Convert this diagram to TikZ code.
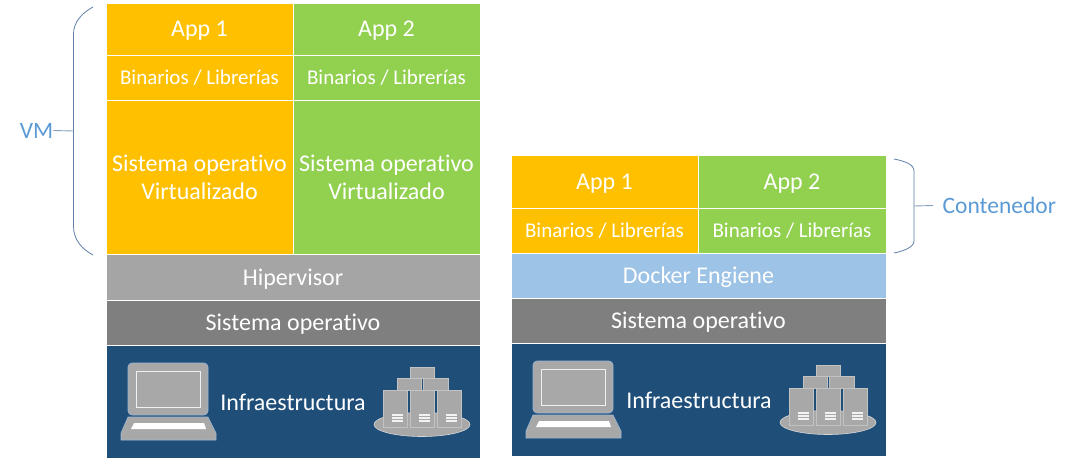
\documentclass[tikz,border=0pt]{standalone}
\usepackage{fontspec}
\setmainfont{Carlito}[RawFeature={-liga}]
\definecolor{orangeb}{HTML}{FFC000}
\definecolor{greenb}{HTML}{92D050}
\definecolor{grayb}{HTML}{A5A5A5}
\definecolor{darkb}{HTML}{7F7F7F}
\definecolor{navyb}{HTML}{1F4E79}
\definecolor{skyb}{HTML}{9DC3E6}
\definecolor{labelb}{HTML}{5B9BD5}
\definecolor{bracketb}{HTML}{5F7FA8}
\definecolor{icongray}{HTML}{A8A8A8}
\definecolor{iconedge}{HTML}{9DB8D2}
\tikzset{
  x=1pt,y=-1pt,
  box/.style={draw=white,line width=0.8pt,anchor=north west,inner sep=0pt,outer sep=0pt,text=white,align=center,font=\fontsize{24}{28}\selectfont},
  wide/.style={box,minimum width=375pt},
  half/.style={box,minimum width=#1pt},
  small/.style={font=\fontsize{21}{24}\selectfont},
  sidelabel/.style={text=labelb,font=\fontsize{23.5}{26}\selectfont,inner sep=0pt},
  bracket/.style={draw=bracketb,line width=0.8pt},
  lead/.style={draw=bracketb!75,line width=0.9pt},
  infra/.style={text=white,font=\fontsize{24}{26}\selectfont,inner sep=0pt},
  laptop/.pic={
    \path[fill=icongray,draw=iconedge,line width=0.6pt,rounded corners=4pt] (128,415)--(128,363)--(208,363)--(208,415)--cycle;
    \path[draw=white!88!gray,line width=0.8pt] (136,371) rectangle (200,407);
    \path[fill=icongray,draw=iconedge,line width=0.6pt] (128,417)--(208,417)--(216,433)--(216,440)--(121,440)--(121,433)--cycle;
    \path[fill=white] (134,423)--(204,423)--(206,429)--(131,429)--cycle;
  },
  srvbox/.style={fill=icongray,draw=white!30!icongray,line width=0.6pt},
  stripes/.style={draw=white!90!gray,line width=1.2pt},
  server/.pic={
    \path[fill=icongray,draw=white!55!icongray,line width=0.6pt] (422,424.5) ellipse [x radius=48,y radius=12];
    \path[srvbox] (410,367) rectangle (434,378);
    \path[srvbox] (397,378) rectangle (421,390);
    \path[srvbox] (423,378) rectangle (448,390);
    \foreach \xa in {383,410,437}{
      \path[srvbox] (\xa,390) rectangle ++(24,37);
      \foreach \ya in {415,418,421}{
        \path[stripes] (\xa+8.5,\ya) -- ++(11,0);
      }
    }
  }
}
\begin{document}
\begin{tikzpicture}
\useasboundingbox[fill=white] (0,0) rectangle (1072,466);
% left stack
\node[half=187,fill=orangeb,minimum height=52pt,text depth=0pt] (lapp1) at (106,3) {App 1};
\node[half=187,fill=greenb,minimum height=52pt,text depth=0pt] (lapp2) at (293,3) {App 2};
\node[half=187,small,fill=orangeb,minimum height=45pt] (lbin1) at (106,55) {Binarios / Librerías};
\node[half=187,small,fill=greenb,minimum height=45pt] (lbin2) at (293,55) {Binarios / Librerías};
\node[half=187,fill=orangeb,minimum height=154pt] (los1) at (106,100) {Sistema operativo\\Virtualizado};
\node[half=187,fill=greenb,minimum height=154pt] (los2) at (293,100) {Sistema operativo\\Virtualizado};
\node[wide,minimum width=374pt,fill=grayb,minimum height=46pt,text depth=0pt] (lhyp) at (106,254) {Hipervisor};
\node[wide,minimum width=374pt,fill=darkb,minimum height=45pt,text depth=0pt] (lsys) at (106,300) {Sistema operativo};
\node[wide,minimum width=374pt,fill=navyb,minimum height=113pt] (linf) at (106,345) {};
\node[infra] (linft) at (293,402) {Infraestructura};
\pic at (0,0) {laptop};
\pic at (0,0) {server};
% right stack
\node[half=187,fill=orangeb,minimum height=53pt,text depth=0pt] (rapp1) at (511,155.5) {App 1};
\node[half=188,fill=greenb,minimum height=53pt,text depth=0pt] (rapp2) at (698,155.5) {App 2};
\node[half=187,small,fill=orangeb,minimum height=45pt] (rbin1) at (511,208.5) {Binarios / Librerías};
\node[half=188,small,fill=greenb,minimum height=45pt] (rbin2) at (698,208.5) {Binarios / Librerías};
\node[wide,fill=skyb,minimum height=45pt,text depth=2pt] (rdock) at (511,253.5) {Docker Engiene};
\node[wide,fill=darkb,minimum height=45pt,text depth=2pt] (rsys) at (511,298.5) {Sistema operativo};
\node[wide,fill=navyb,minimum height=113pt] (rinf) at (511,343.5) {};
\node[infra] (rinft) at (699,400) {Infraestructura};
\pic at (405,-2) {laptop};
\pic at (406,-2) {server};
% VM bracket
\coordinate (vmtop) at (93,7);
\coordinate (vmmid) at (73.5,131);
\coordinate (vmbot) at (93,255);
\node[sidelabel] (vm) at (36.5,130.5) {VM};
\draw[bracket] (vmtop) .. controls (82,13) and (73.5,22) .. (73.5,34) -- (73.5,226) .. controls (73.5,240) and (82,249) .. (vmbot);
\draw[lead] (vm.east) -- (vmmid);
% container bracket
\coordinate (ctop) at (894,159);
\coordinate (cmid) at (914,206);
\coordinate (cbot) at (894,253);
\node[sidelabel,anchor=west] (cont) at (942.5,205.5) {Contenedor};
\draw[bracket] (ctop) .. controls (904,161) and (914,164) .. (914,171) -- (914,241) .. controls (914,247) and (904,251) .. (cbot);
\draw[lead] (cmid) -- ([xshift=-9.5pt]cont.west);
\end{tikzpicture}
\end{document}
